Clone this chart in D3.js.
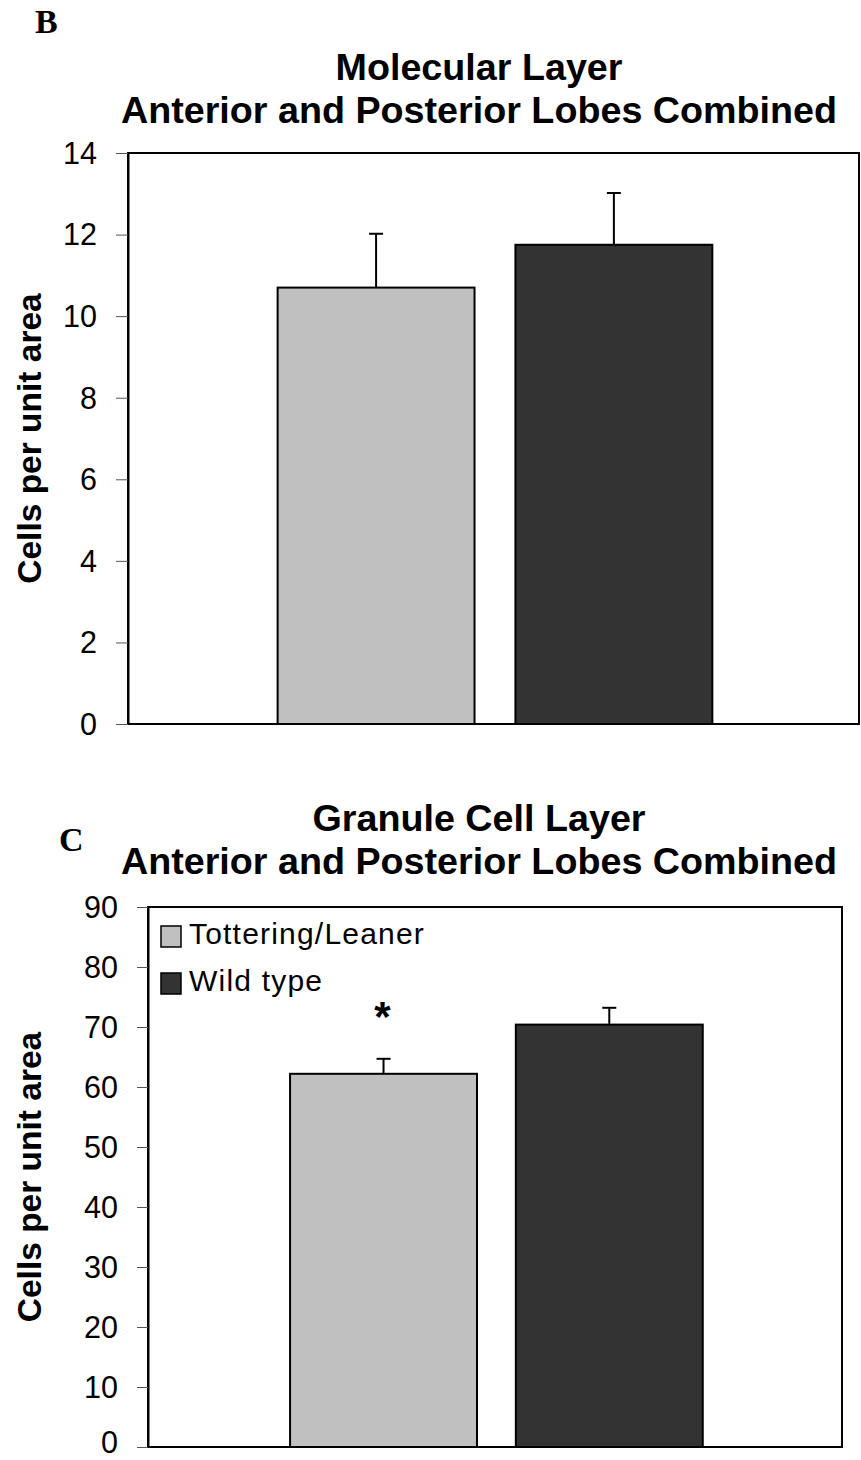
<!DOCTYPE html>
<html lang="en">
<head>
<meta charset="utf-8">
<title>Cells per unit area</title>
<script src="https://cdn.jsdelivr.net/npm/d3@7"></script>
<style>
    body { margin: 0; background: #fff; }
    svg { display: block; }
    text { font-family: "Liberation Sans", Arial, sans-serif; fill: #000; }
    .panel-letter { font-family: "Liberation Serif", "Times New Roman", serif; font-weight: bold; font-size: 34px; }
    .title { font-weight: bold; font-size: 37.7px; }
    .ylabel { font-weight: bold; font-size: 33.5px; }
    .tick text { font-size: 30.5px; }
    .legend text { font-size: 30px; letter-spacing: 1.2px; }
</style>
</head>
<body>
<svg width="861" height="1460"></svg>
<script>
    // groups shown in both panels
    const groups = ["Tottering/Leaner", "Wild type"]
    const groupColors = ["#c0c0c0", "#333333"]

    // panel B : molecular layer
    const molecularMeans = [10.7, 11.75]
    const molecularErrors = [1.32, 1.27]
    const molecularTicks = [0, 2, 4, 6, 8, 10, 12, 14]

    // panel C : granule cell layer
    const granuleMeans = [62.2, 70.4]
    const granuleErrors = [2.5, 2.8]
    const granuleMarks = ["*", ""]
    const granuleTicks = [0, 10, 20, 30, 40, 50, 60, 70, 80, 90]

    const svg = d3.select("svg")

    function drawPanel(opt) {
        const g = svg.append("g")

        const x = d3.scaleBand()
            .domain(groups)
            .range([opt.left, opt.right])
            .paddingInner(0.172)
            .paddingOuter(0.623)
            .align(0.505)

        const y = d3.scaleLinear()
            .domain([0, d3.max(opt.ticks)])
            .range([opt.bottom, opt.top])

        const rows = groups.map((k, i) => ({
            name: k, mean: opt.means[i], err: opt.errors[i],
            mark: opt.marks ? opt.marks[i] : "", color: groupColors[i]
        }))

        // letter
        g.append("text").attr("class", "panel-letter")
            .attr("x", opt.letterX).attr("y", opt.letterY)
            .text(opt.letter)

        // title, two lines
        g.selectAll(".title").data(opt.title).enter()
            .append("text").attr("class", "title")
            .attr("x", 479)
            .attr("y", (d, i) => opt.titleY + i * 43)
            .attr("text-anchor", "middle")
            .text(d => d)

        // plot frame
        g.append("rect")
            .attr("x", opt.left).attr("y", opt.top)
            .attr("width", opt.right - opt.left)
            .attr("height", opt.bottom - opt.top)
            .attr("fill", "none")
            .attr("stroke", "#000")
            .attr("stroke-width", 2)

        // error bars (upper only)
        const eb = g.selectAll(".err").data(rows).enter().append("g")
        eb.append("line")
            .attr("x1", d => x(d.name) + x.bandwidth() / 2)
            .attr("x2", d => x(d.name) + x.bandwidth() / 2)
            .attr("y1", d => y(d.mean))
            .attr("y2", d => y(d.mean + d.err))
            .attr("stroke", "#000").attr("stroke-width", 2)
        eb.append("line")
            .attr("x1", d => x(d.name) + x.bandwidth() / 2 - 7)
            .attr("x2", d => x(d.name) + x.bandwidth() / 2 + 7)
            .attr("y1", d => y(d.mean + d.err))
            .attr("y2", d => y(d.mean + d.err))
            .attr("stroke", "#000").attr("stroke-width", 2)

        // bars
        g.selectAll(".bar").data(rows).enter()
            .append("rect")
            .attr("x", d => x(d.name))
            .attr("y", d => y(d.mean))
            .attr("width", x.bandwidth())
            .attr("height", d => y(0) - y(d.mean))
            .attr("fill", d => d.color)
            .attr("stroke", "#000")
            .attr("stroke-width", 2)

        // significance marks
        g.selectAll(".mark").data(rows.filter(d => d.mark)).enter()
            .append("text")
            .attr("x", d => x(d.name) + x.bandwidth() / 2 - 1)
            .attr("y", d => y(d.mean + d.err) - 28)
            .attr("text-anchor", "middle")
            .style("font-size", "42px")
            .style("font-weight", "bold")
            .text(d => d.mark)

        // y axis
        const axis = g.append("g")
            .attr("transform", `translate(${opt.left},0)`)
            .call(d3.axisLeft(y).tickValues(opt.ticks).tickSize(opt.tickLen).tickSizeOuter(0).tickPadding(19))
        axis.select(".domain").attr("stroke", "#000").attr("stroke-width", 2)
        axis.selectAll(".tick line").attr("stroke", "#555").attr("stroke-width", 1)
        axis.selectAll(".tick text").attr("font-family", null).attr("font-size", null).attr("dy", "0.34em")
        // keep the lowest label inside the page
        if (opt.bottom > 1400) {
            axis.selectAll(".tick text").filter(d => d === 0).attr("dy", "0.18em")
        }

        g.append("text").attr("class", "ylabel")
            .attr("transform", `translate(41,${(opt.top + opt.bottom) / 2}) rotate(-90)`)
            .attr("text-anchor", "middle")
            .text("Cells per unit area")

        if (opt.legend) {
            const lg = g.selectAll(".legend").data(rows).enter()
                .append("g").attr("class", "legend")
                .attr("transform", (d, i) => `translate(161,${opt.top + 19 + i * 47})`)
            lg.append("rect")
                .attr("width", 20).attr("height", 21)
                .attr("fill", d => d.color)
                .attr("stroke", "#000").attr("stroke-width", 1.5)
            lg.append("text")
                .attr("x", 28).attr("y", 18)
                .text(d => d.name)
        }
    }

    drawPanel({
        letter: "B", letterX: 35, letterY: 33,
        title: ["Molecular Layer", "Anterior and Posterior Lobes Combined"], titleY: 80,
        left: 128, right: 859, top: 153, bottom: 724, tickLen: 12,
        means: molecularMeans, errors: molecularErrors, ticks: molecularTicks,
        legend: false
    })

    drawPanel({
        letter: "C", letterX: 59, letterY: 851,
        title: ["Granule Cell Layer", "Anterior and Posterior Lobes Combined"], titleY: 831,
        left: 148, right: 842, top: 907, bottom: 1447, tickLen: 11,
        means: granuleMeans, errors: granuleErrors, marks: granuleMarks, ticks: granuleTicks,
        legend: true
    })
</script>
</body>
</html>
